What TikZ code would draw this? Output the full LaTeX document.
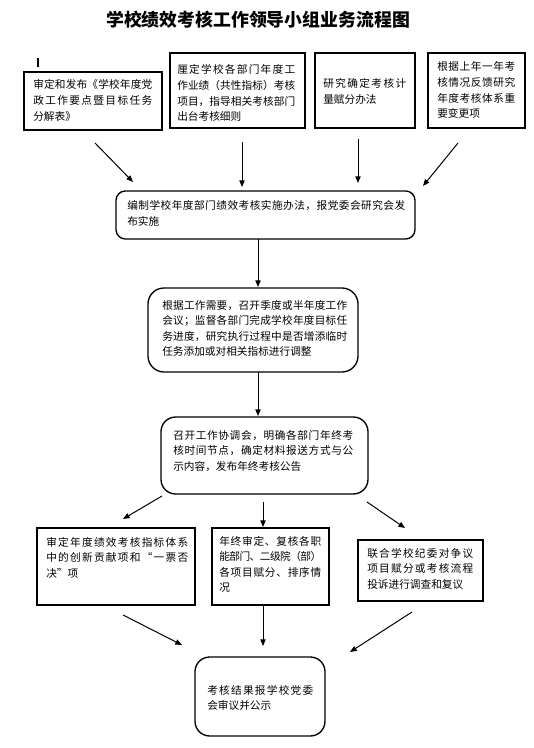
\documentclass[tikz,border=0pt]{standalone}
\usepackage{fontspec}
\newfontfamily\cjk{Noto Sans CJK SC}
\usetikzlibrary{arrows.meta,fit}
\setlength\parindent{0pt}
\makeatletter
\def\jl#1{\leavevmode\hbox to\hsize{\jl@a#1\relax}}
\def\jl@a#1{#1\jl@b}
\def\jl@b#1{\ifx\relax#1\else\hskip 0pt plus 1fil minus 1fil#1\expandafter\jl@b\fi}
\makeatother
\tikzset{
  box/.style={draw, line width=1pt, inner sep=0pt},
  rbox/.style={box, rounded corners=10pt},
  txt/.style={anchor=base west, inner sep=0pt, align=left, font=\cjk\fontsize{8pt}{11.7pt}\selectfont},
  arr/.style={line width=0.75pt, -{Triangle[length=5pt,width=4pt]}},
}
\begin{document}
\begin{tikzpicture}[x=0.75pt,y=-0.75pt]
\fill[white] (0,0) rectangle (534,748);
\useasboundingbox (0,0) rectangle (534,748);

\node[font=\cjk\bfseries\fontsize{13.4pt}{16pt}\selectfont] (title) at (258,20) {学校绩效考核工作领导小组业务流程图};

% small cursor mark
\coordinate (m1) at (38,58);
\coordinate (m2) at (38,67);
\draw[line width=1.5pt] (m1) -- (m2);

% top row
\node[box, fit={(24,72) (162,130)}] (b1) {};
\node[txt, text width=89.25pt] (t1) at (33,89) {\jl{审定和发布《学校年度党}\\\jl{政工作要点暨目标任务}\\分解表》};
\node[box, fit={(170,53) (305,128)}] (b2) {};
\node[txt, text width=88.5pt] (t2) at (177,74) {\jl{厘定学校各部门年度工}\\\jl{作业绩（共性指标）考核}\\\jl{项目，指导相关考核部门}\\出台考核细则};
\node[box, fit={(315,53) (415,128)}] (b3) {};
\node[txt, text width=62.25pt] (t3) at (323,88) {\jl{研究确定考核计}\\量赋分办法};
\node[box, fit={(428,53) (525,128)}] (b4) {};
\node[txt, text width=58.5pt] (t4) at (437,71) {\jl{根据上年一年考}\\\jl{核情况反馈研究}\\\jl{年度考核体系重}\\要变更项};

% box 5
\node[box, rounded corners=7pt, fit={(116,191) (415,239)}] (b5) {};
\node[txt, text width=208.5pt] (t5) at (127,210) {\jl{编制学校年度部门绩效考核实施办法，报党委会研究会发}\\布实施};

% box 6
\node[rbox, rounded corners=12pt, fit={(148,288) (358,372)}] (b6) {};
\node[txt, text width=138.75pt] (t6) at (162,309) {\jl{根据工作需要，召开季度或半年度工作}\\\jl{会议；监督各部门完成学校年度目标任}\\\jl{务进度，研究执行过程中是否增添临时}\\任务添加或对相关指标进行调整};

% box 7
\node[rbox, rounded corners=11pt, fit={(161,417) (368,494)}] (b7) {};
\node[txt, text width=135pt] (t7) at (173,439) {\jl{召开工作协调会，明确各部门年终考}\\\jl{核时间节点，确定材料报送方式与公}\\示内容，发布年终考核公告};

% bottom row
\node[box, fit={(37,528) (195,605)}] (b8) {};
\node[txt, text width=106.5pt] (t8) at (46,546) {\jl{审定年度绩效考核指标体系}\\\jl{中的创新贡献项和“一票否}\\决”项};
\node[box, fit={(212,528) (329,605)}] (b9) {};
\node[txt, text width=76.5pt] (t9) at (219,545) {\jl{年终审定、复核各职}\\\jl{能部门、二级院（部）}\\\jl{各项目赋分、排序情}\\况};
\node[box, fit={(358,540) (483,601)}] (b10) {};
\node[txt, text width=79.5pt] (t10) at (367,557) {\jl{联合学校纪委对争议}\\\jl{项目赋分或考核流程}\\投诉进行调查和复议};

% final box
\node[rbox, rounded corners=11pt, fit={(195,657) (325,736)}] (b11) {};
\node[txt, text width=79.5pt] (t11) at (207,694) {\jl{考核结果报学校党委}\\会审议并公示};

% arrow end points
\coordinate (a1s) at (95,143);  \coordinate (a1e) at (133,182);
\coordinate (a2s) at (242,142); \coordinate (a2e) at (242,187);
\coordinate (a3s) at (358,139); \coordinate (a3e) at (358,183);
\coordinate (a4s) at (458,143); \coordinate (a4e) at (423,186);
\coordinate (a5s) at (258,239); \coordinate (a5e) at (258,287);
\coordinate (a6s) at (258,372); \coordinate (a6e) at (258,416);
\coordinate (a7s) at (162,496); \coordinate (a7e) at (123,519);
\coordinate (a8s) at (263,502); \coordinate (a8e) at (263,527);
\coordinate (a9s) at (367,502); \coordinate (a9e) at (405,528);
\coordinate (a10s) at (123,615); \coordinate (a10e) at (182,645);
\coordinate (a11s) at (263,605); \coordinate (a11e) at (263,646);
\coordinate (a12s) at (412,612); \coordinate (a12e) at (350,652);

\foreach \i in {1,...,12} \draw[arr] (a\i s) -- (a\i e);
\end{tikzpicture}
\end{document}
